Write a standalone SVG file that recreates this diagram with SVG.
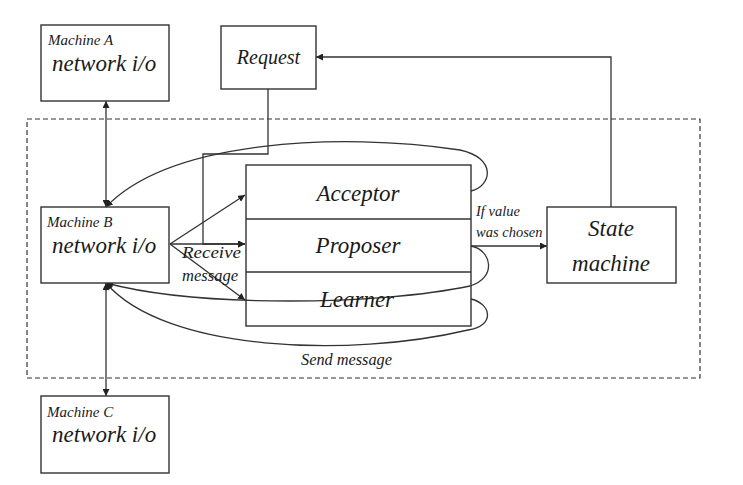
<svg xmlns="http://www.w3.org/2000/svg" width="743" height="485" viewBox="0 0 743 485">
<style>
.box{fill:#fff;stroke:#333;stroke-width:1.4}
.ln{fill:none;stroke:#333;stroke-width:1.3}
.t{font-family:"Liberation Serif",serif;font-style:italic;fill:#1a1a1a}
.big{font-size:23px}
.sm{font-size:15px}
.md{font-size:16px}
</style>
<defs>
<marker id="ah" viewBox="0 0 10 10" refX="10" refY="5" markerWidth="7" markerHeight="7" markerUnits="userSpaceOnUse" orient="auto-start-reverse">
<path d="M0,0 L10,5 L0,10 z" fill="#222"/>
</marker>
</defs>
<rect width="743" height="485" fill="#fff"/>
<rect x="27" y="119" width="673" height="259" fill="none" stroke="#333" stroke-width="1.2" stroke-dasharray="5,3"/>

<g id="connectors">
<line class="ln" x1="106" y1="101" x2="106" y2="207" marker-start="url(#ah)" marker-end="url(#ah)"/>
<line class="ln" x1="106" y1="283" x2="106" y2="396" marker-start="url(#ah)" marker-end="url(#ah)"/>
<path class="ln" d="M268,89 V154 H203 V244 H245" marker-end="url(#ah)"/>
<line class="ln" x1="170" y1="244" x2="245" y2="195" marker-end="url(#ah)"/>
<line class="ln" x1="170" y1="244" x2="245" y2="244" marker-end="url(#ah)"/>
<line class="ln" x1="170" y1="244" x2="245" y2="300" marker-end="url(#ah)"/>
<path class="ln" d="M471,191 C492,186 497,158 460,150 C340,132 170,140 106,207" marker-end="url(#ah)"/>
<path class="ln" d="M471,246 C492,250 497,278 470,286 C380,305 200,308 106,283" marker-end="url(#ah)"/>
<path class="ln" d="M471,299 C492,304 495,326 468,330 C350,358 165,352 106,283" marker-end="url(#ah)"/>
<line class="ln" x1="471" y1="246" x2="547" y2="246" marker-end="url(#ah)"/>
<path class="ln" d="M611,207 V57 H316" marker-end="url(#ah)"/>
<text class="t md" x="182" y="258" textLength="59" lengthAdjust="spacingAndGlyphs">Receive</text>
<text class="t md" x="182" y="281" textLength="56" lengthAdjust="spacingAndGlyphs">message</text>
<text class="t" font-size="14.5" x="476" y="216">If value</text>
<text class="t" font-size="14.5" x="476" y="237">was chosen</text>
<text class="t md" x="301" y="365" textLength="91" lengthAdjust="spacingAndGlyphs">Send message</text>
</g>

<g id="machineA">
<rect class="box" x="41" y="25" width="128" height="76"/>
<text class="t sm" x="48" y="45">Machine A</text>
<text class="t big" x="52" y="71">network i/o</text>
</g>
<g id="request">
<rect class="box" x="221" y="26" width="95" height="63"/>
<text class="t" font-size="20" x="268.5" y="64" text-anchor="middle">Request</text>
</g>
<g id="machineB">
<rect class="box" x="41" y="207" width="128" height="76"/>
<text class="t sm" x="47" y="227">Machine B</text>
<text class="t big" x="52" y="253">network i/o</text>
</g>
<g id="machineC">
<rect class="box" x="41" y="396" width="128" height="77"/>
<text class="t sm" x="47" y="417">Machine C</text>
<text class="t big" x="52" y="442">network i/o</text>
</g>
<g id="paxos">
<rect class="box" x="246" y="165" width="225" height="161" style="fill:none"/>
<line class="ln" x1="246" y1="219" x2="471" y2="219"/>
<line class="ln" x1="246" y1="272" x2="471" y2="272"/>
<text class="t big" x="358" y="201" text-anchor="middle">Acceptor</text>
<text class="t big" x="358" y="253" text-anchor="middle">Proposer</text>
<text class="t big" x="357" y="307" text-anchor="middle">Learner</text>
</g>
<g id="stateMachine">
<rect class="box" x="547" y="207" width="129" height="76"/>
<text class="t big" x="611" y="236" text-anchor="middle">State</text>
<text class="t big" x="611" y="271" text-anchor="middle">machine</text>
</g>
</svg>
